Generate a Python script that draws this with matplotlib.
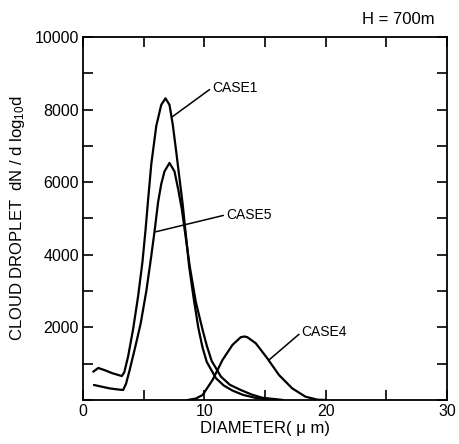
import matplotlib
matplotlib.use("Agg")
import matplotlib.pyplot as plt
from matplotlib.ticker import MultipleLocator

plt.rcParams['font.family'] = ['Liberation Sans', 'DejaVu Sans']
plt.rcParams['mathtext.fontset'] = 'custom'
plt.rcParams['mathtext.rm'] = 'Liberation Sans'
plt.rcParams['mathtext.it'] = 'Liberation Sans'

# Droplet size spectra at H = 700 m (diameter in micrometres, dN/dlog10 d)
case1_d = [0.85, 1.26, 1.8, 2.4, 3.0, 3.2, 3.4, 3.72, 4.13, 4.54, 4.9, 5.16, 5.35,
           5.63, 6.04, 6.45, 6.8, 7.13, 7.4, 7.68, 7.95, 8.22, 8.75, 9.1, 9.5,
           9.85, 10.2, 10.96, 11.6, 12.32, 13.2, 14.2, 16.0]
case1_n = [780, 883, 820, 740, 680, 660, 760, 1200, 1950, 2850, 3800, 4700, 5450,
           6500, 7550, 8130, 8310, 8130, 7586, 6850, 6115, 5379, 3678, 2850, 2000,
           1450, 1050, 600, 400, 260, 140, 60, 0]

case5_d = [0.9, 1.5, 2.2, 3.0, 3.31, 3.55, 3.85, 4.3, 4.75, 5.22, 5.6, 5.9, 6.19,
           6.45, 6.72, 7.13, 7.54, 7.85, 8.15, 8.8, 9.3, 9.86, 10.2, 10.6, 11.37,
           12.1, 13.0, 13.9, 14.8, 16.5]
case5_n = [414, 370, 320, 285, 276, 450, 830, 1450, 2100, 3000, 3900, 4650, 5450,
           5950, 6299, 6530, 6299, 5800, 5250, 3678, 2700, 1931, 1500, 1080, 644,
           420, 276, 150, 60, 0]

case4_d = [8.63, 9.3, 9.86, 10.68, 11.5, 12.32, 13.0, 13.3, 13.55, 14.24, 15.19,
           16.15, 17.24, 18.33, 19.3, 20.0]
case4_n = [0, 40, 138, 552, 1103, 1517, 1729, 1750, 1729, 1563, 1149, 690, 322,
           92, 10, 0]

x_ticks = [0, 10, 20, 30]
y_ticks = [2000, 4000, 6000, 8000, 10000]

fig = plt.figure(figsize=(4.6, 4.44), dpi=100)
ax = fig.add_axes([0.1804, 0.0991, 0.7913, 0.8176])

for d, n in [(case1_d, case1_n), (case5_d, case5_n), (case4_d, case4_n)]:
    ax.plot(d, n, color='black', lw=1.6, solid_joinstyle='round',
            solid_capstyle='round')

ax.set_xlim(0, 30)
ax.set_ylim(0, 10000)
ax.set_xticks(x_ticks)
ax.set_yticks(y_ticks)
ax.xaxis.set_minor_locator(MultipleLocator(5))
ax.yaxis.set_minor_locator(MultipleLocator(1000))
ax.tick_params(which='both', direction='in', top=True, right=True,
               length=7, width=1.2, labelsize=11.5, pad=3)
for s in ax.spines.values():
    s.set_linewidth(1.3)

ax.set_xlabel('DIAMETER( \u03bc m)', fontsize=12, labelpad=1)
ax.set_ylabel('CLOUD DROPLET  dN / d log$_{10}$d', fontsize=12, labelpad=5)

line_kw = dict(arrowstyle='-', color='black', lw=1.1, shrinkA=0, shrinkB=0,
               relpos=(0, 0.5))
ax.annotate('CASE1', xy=(7.38, 7807), xytext=(10.66, 8607), ha='left',
            va='center', fontsize=10, arrowprops=line_kw)
ax.annotate('CASE5', xy=(6.0, 4634), xytext=(11.8, 5103), ha='left',
            va='center', fontsize=10, arrowprops=line_kw)
ax.annotate('CASE4', xy=(15.33, 1103), xytext=(18.03, 1876), ha='left',
            va='center', fontsize=10, arrowprops=line_kw)

fig.text(0.9457, 0.955, 'H = 700m', ha='right', va='center', fontsize=12)

fig.savefig('out.png', dpi=100)
